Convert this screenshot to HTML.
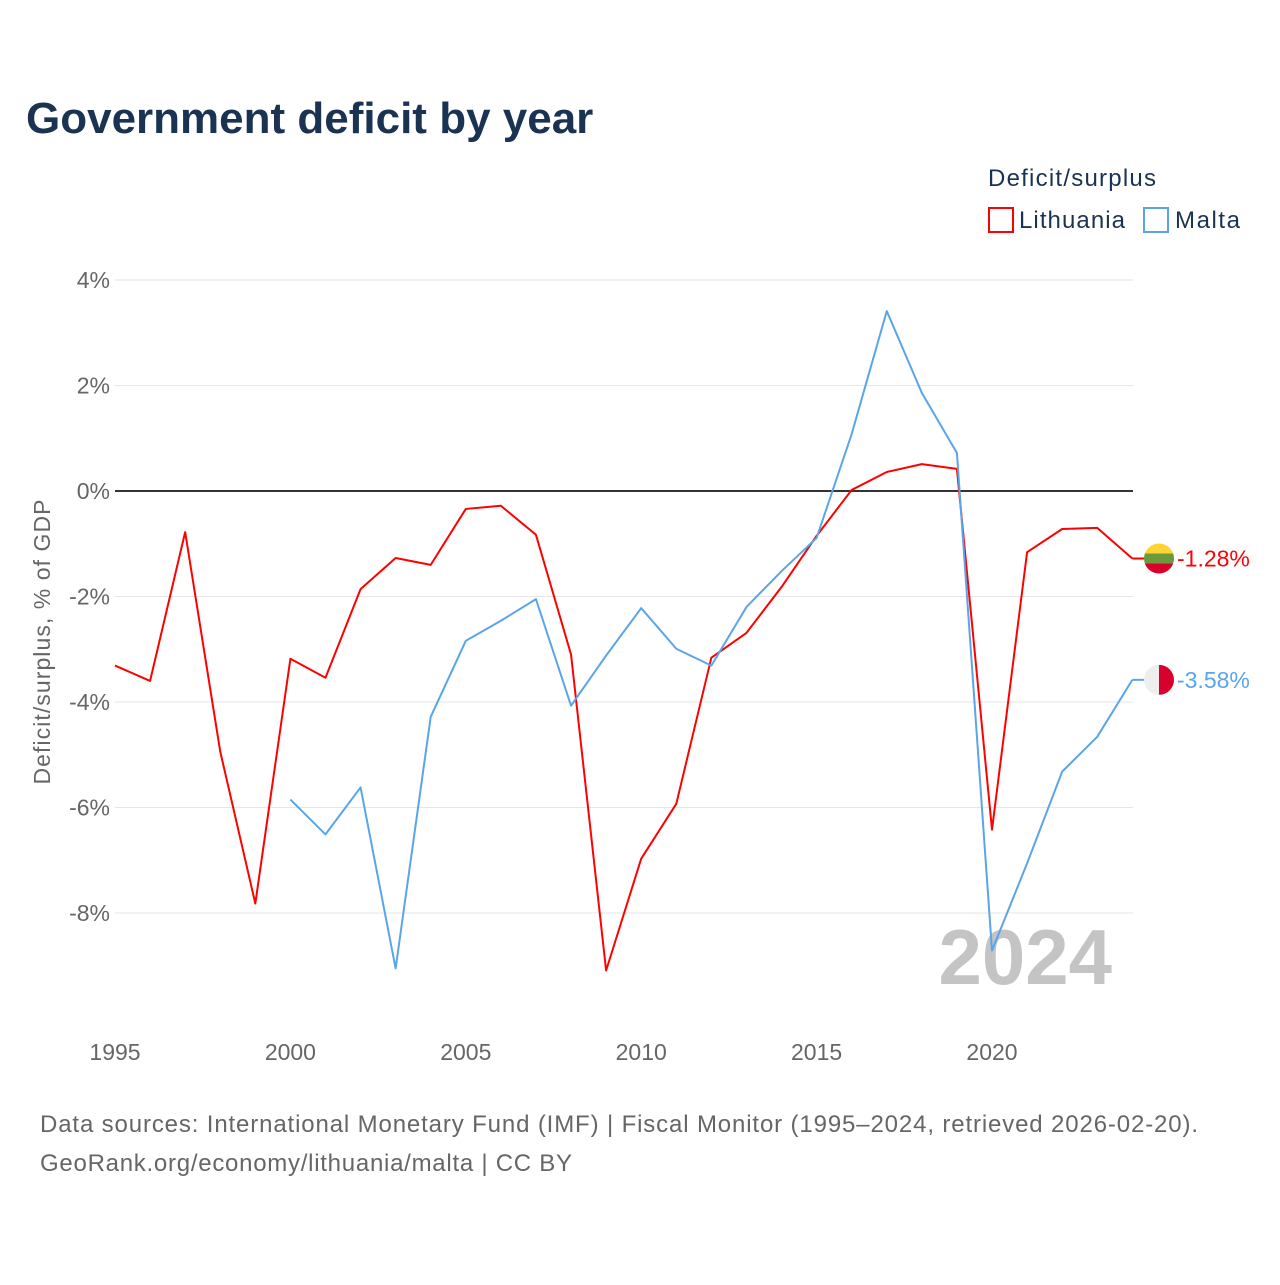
<!DOCTYPE html>
<html><head><meta charset="utf-8"><style>
body{margin:0;background:#fff;width:1280px;height:1280px;overflow:hidden;font-family:"Liberation Sans",sans-serif}
</style></head><body>
<svg width="1280" height="1280" font-family="Liberation Sans, sans-serif">
<text x="26" y="133" font-size="44" font-weight="bold" fill="#1b3353">Government deficit by year</text>
<text x="988" y="186" font-size="24" fill="#1b3353" textLength="168">Deficit/surplus</text>
<g><rect x="989" y="208" width="24" height="24" fill="none" stroke="#ff0000" stroke-width="2"/><text x="1019" y="228" font-size="24" fill="#1b3353" textLength="106">Lithuania</text></g>
<g><rect x="1144" y="208" width="24" height="24" fill="none" stroke="#5aa5e9" stroke-width="2"/><text x="1175" y="228" font-size="24" fill="#1b3353" textLength="65">Malta</text></g>
<g id="grid"></g>
<g id="yt"></g>
<g id="xt"></g>
<text transform="translate(50,642) rotate(-90)" text-anchor="middle" font-size="23" fill="#666" textLength="285">Deficit/surplus, % of GDP</text>
<text x="1112" y="984" text-anchor="end" font-size="78" font-weight="bold" fill="#c4c4c4">2024</text>
<g id="series"></g>
<text x="40" y="1132" font-size="24" fill="#666" textLength="1158">Data sources: International Monetary Fund (IMF) | Fiscal Monitor (1995–2024, retrieved 2026-02-20).</text>
<text x="40" y="1171" font-size="24" fill="#666" textLength="532">GeoRank.org/economy/lithuania/malta | CC BY</text>
</svg>
<script>
const yearsLT=[1995,1996,1997,1998,1999,2000,2001,2002,2003,2004,2005,2006,2007,2008,2009,2010,2011,2012,2013,2014,2015,2016,2017,2018,2019,2020,2021,2022,2023,2024];
const lithuania=[-3.31,-3.6,-0.78,-4.94,-7.82,-3.18,-3.54,-1.86,-1.27,-1.40,-0.34,-0.28,-0.83,-3.1,-9.09,-6.97,-5.93,-3.16,-2.69,-1.82,-0.85,0.02,0.36,0.51,0.42,-6.42,-1.16,-0.72,-0.70,-1.28];
const yearsMT=[2000,2001,2002,2003,2004,2005,2006,2007,2008,2009,2010,2011,2012,2013,2014,2015,2016,2017,2018,2019,2020,2021,2022,2023,2024];
const malta=[-5.85,-6.51,-5.62,-9.05,-4.28,-2.84,-2.46,-2.05,-4.07,-3.12,-2.22,-2.99,-3.31,-2.2,-1.52,-0.89,1.08,3.41,1.86,0.72,-8.71,-7.06,-5.32,-4.66,-3.58];
const yTicks=[4,2,0,-2,-4,-6,-8];
const yTickLabels=["4%","2%","0%","-2%","-4%","-6%","-8%"];
const xTicks=[1995,2000,2005,2010,2015,2020];
const NS="http://www.w3.org/2000/svg";
const X=y=>115+(y-1995)*(992-115)/25;
const Y=v=>491-v*(491-280)/4;
function mk(t,a,p){const e=document.createElementNS(NS,t);for(const k in a)e.setAttribute(k,a[k]);p.appendChild(e);return e;}
const grid=document.getElementById('grid'),yt=document.getElementById('yt'),xt=document.getElementById('xt'),ser=document.getElementById('series');
yTicks.forEach((v,i)=>{
 const l=mk('line',{x1:115,x2:1133,y1:Y(v),y2:Y(v),stroke:v===0?'#333':'#e6e6e6','stroke-width':v===0?2:1},grid);
 
 
 const t=mk('text',{x:110,y:Y(v)+8,'text-anchor':'end','font-size':23,fill:'#666'},yt);
 t.textContent=yTickLabels[i];
 
 
});
xTicks.forEach(v=>{
 const t=mk('text',{x:X(v),y:1060,'text-anchor':'middle','font-size':23,fill:'#666'},xt);
 t.textContent=v;
 
 
});
function line(ys,vs,c,name){
 const p=mk('polyline',{points:ys.map((y,i)=>X(y)+','+Y(vs[i])).join(' '),fill:'none',stroke:c,'stroke-width':2,'stroke-linejoin':'round'},ser);
 
 
 const ly=ys[ys.length-1],lv=vs[vs.length-1];
 mk('line',{x1:X(ly),x2:X(ly)+12,y1:Y(lv),y2:Y(lv),stroke:c,'stroke-width':2},ser);
 const t=mk('text',{x:1177,y:Y(lv)+8,'font-size':23,fill:c},ser);
 t.textContent=lv.toFixed(2)+'%';
 
 
 return Y(lv);
}
const yl=line(yearsLT,lithuania,'#ff0000','lithuania-line');
const ym=line(yearsMT,malta,'#5aa5e9','malta-line');
const cx=1159,r=15;
const cp=mk('clipPath',{id:'c1'},ser);mk('circle',{cx:cx,cy:yl,r:r},cp);
const f1=mk('g',{'clip-path':'url(#c1)'},ser);


mk('rect',{x:cx-r,y:yl-r,width:2*r,height:10,fill:'#fdd335'},f1);
mk('rect',{x:cx-r,y:yl-r+10,width:2*r,height:10,fill:'#6a9a3c'},f1);
mk('rect',{x:cx-r,y:yl-r+20,width:2*r,height:10,fill:'#d8002c'},f1);
const cp2=mk('clipPath',{id:'c2'},ser);mk('circle',{cx:cx,cy:ym,r:r},cp2);
const f2=mk('g',{'clip-path':'url(#c2)'},ser);


mk('rect',{x:cx-r,y:ym-r,width:r,height:2*r,fill:'#eeeeee'},f2);
mk('rect',{x:cx,y:ym-r,width:r,height:2*r,fill:'#d8002c'},f2);
</script>
</body></html>
